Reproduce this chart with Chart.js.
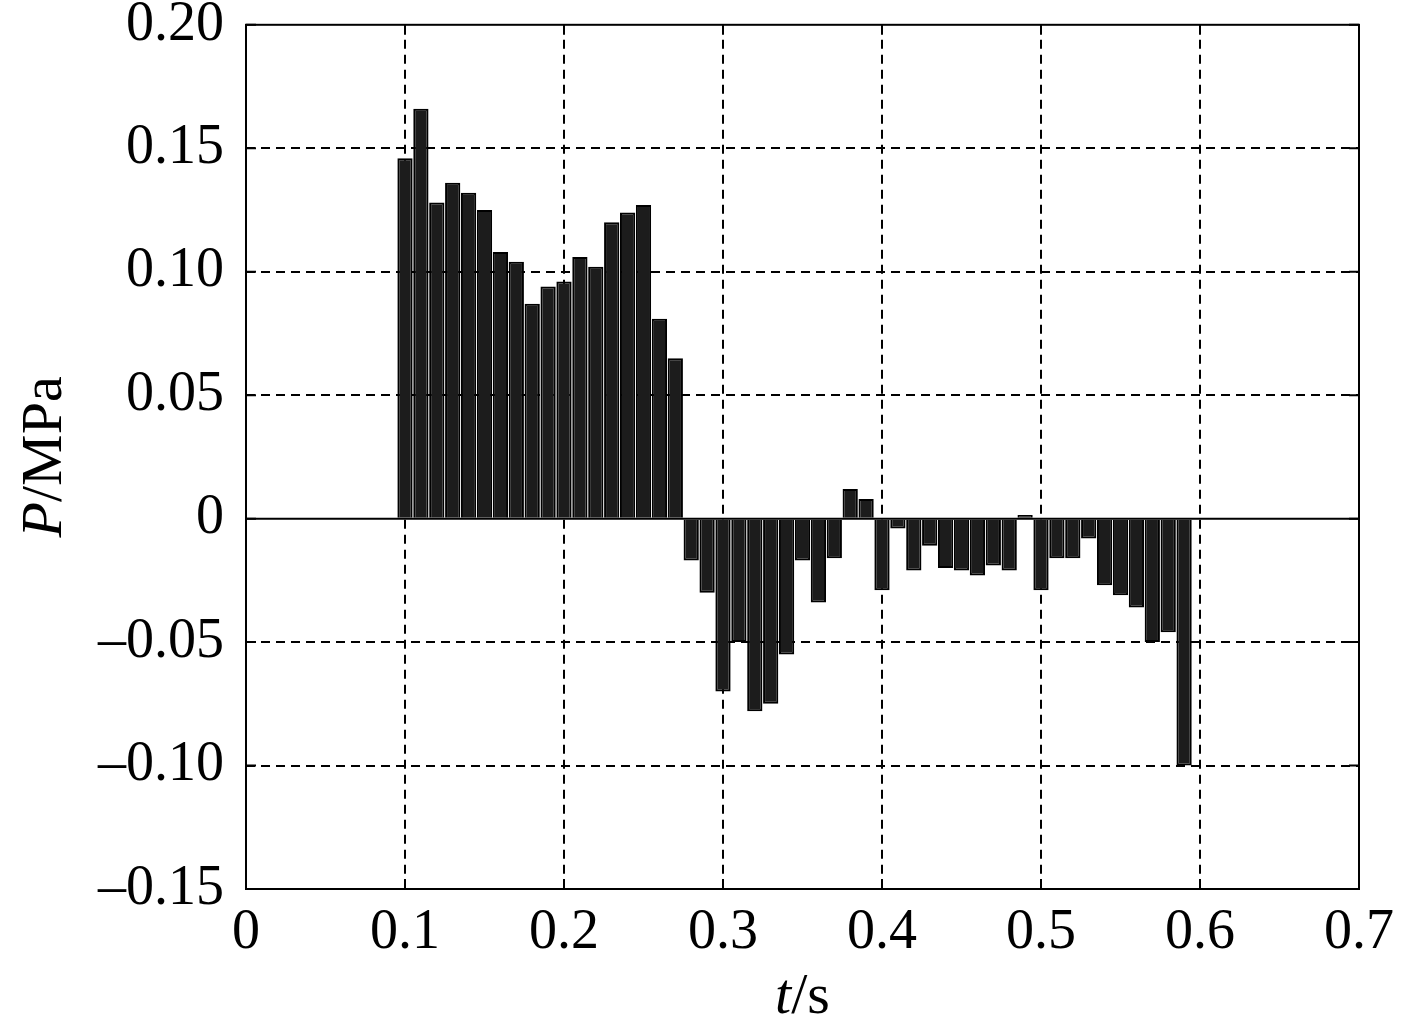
<!DOCTYPE html>
<html>
<head>
<meta charset="utf-8">
<script src="https://cdn.jsdelivr.net/npm/chart.js@4.4.1/dist/chart.umd.min.js"></script>
<style>
  html, body { margin: 0; padding: 0; background: #fff; overflow: hidden; }
  #wrap { width: 1417px; height: 1046px; position: relative; margin-top: -21px; }
</style>
</head>
<body>
<div id="wrap"><canvas id="chart"></canvas></div>
<script>
'use strict';

// ── Data ──
const times = [
  0.10, 0.11, 0.12, 0.13, 0.14, 0.15, 0.16, 0.17, 0.18, 0.19,
  0.20, 0.21, 0.22, 0.23, 0.24, 0.25, 0.26, 0.27, 0.28, 0.29,
  0.30, 0.31, 0.32, 0.33, 0.34, 0.35, 0.36, 0.37, 0.38, 0.39,
  0.40, 0.41, 0.42, 0.43, 0.44, 0.45, 0.46, 0.47, 0.48, 0.49,
  0.50, 0.51, 0.52, 0.53, 0.54, 0.55, 0.56, 0.57, 0.58, 0.59
];
const pressure = [
  0.146, 0.166, 0.128, 0.136, 0.132, 0.125, 0.108, 0.104, 0.087, 0.094,
  0.096, 0.106, 0.102, 0.120, 0.124, 0.127, 0.081, 0.065, -0.017, -0.030,
  -0.070, -0.050, -0.078, -0.075, -0.055, -0.017, -0.034, -0.016, 0.012, 0.008,
  -0.029, -0.004, -0.021, -0.011, -0.020, -0.021, -0.023, -0.019, -0.021, 0.0015,
  -0.029, -0.016, -0.016, -0.008, -0.027, -0.031, -0.036, -0.050, -0.046, -0.100
];
const xTicks = [0, 0.1, 0.2, 0.3, 0.4, 0.5, 0.6, 0.7];
const yTicks = [-0.15, -0.10, -0.05, 0, 0.05, 0.10, 0.15, 0.20];

const FONT = "'Liberation Serif', 'DejaVu Serif', serif";
const INK = '#000';
const SHIFT = 21; // canvas is moved up by this much

// ── Frame, zero line, inward ticks and axis titles ──
const decor = {
  id: 'decor',
  afterDatasetsDraw(chart) {
    const { ctx, chartArea: a, scales } = chart;
    const x = scales.x, y = scales.y;
    ctx.save();
    ctx.strokeStyle = INK;
    ctx.lineWidth = 2;
    ctx.setLineDash([]);

    // zero line
    const y0 = y.getPixelForValue(0);
    ctx.beginPath();
    ctx.moveTo(a.left, y0);
    ctx.lineTo(a.right, y0);
    ctx.stroke();

    // inward ticks
    xTicks.forEach((v) => {
      const px = x.getPixelForValue(v);
      ctx.beginPath();
      ctx.moveTo(px, a.bottom); ctx.lineTo(px, a.bottom - 10);
      ctx.moveTo(px, a.top); ctx.lineTo(px, a.top + 10);
      ctx.stroke();
    });
    yTicks.forEach((v) => {
      const py = y.getPixelForValue(v);
      ctx.beginPath();
      ctx.moveTo(a.left, py); ctx.lineTo(a.left + 10, py);
      ctx.moveTo(a.right, py); ctx.lineTo(a.right - 10, py);
      ctx.stroke();
    });

    // frame
    ctx.strokeRect(a.left, a.top, a.right - a.left, a.bottom - a.top);

    // axis titles, italic variable + upright unit
    ctx.fillStyle = INK;
    ctx.textBaseline = 'middle';
    const drawMixed = (parts, cx, cy) => {
      let total = 0;
      parts.forEach((p) => { ctx.font = p.font; total += ctx.measureText(p.text).width; });
      let cur = cx - total / 2;
      ctx.textAlign = 'left';
      parts.forEach((p) => {
        ctx.font = p.font;
        ctx.fillText(p.text, cur, cy);
        cur += ctx.measureText(p.text).width;
      });
    };
    const mid = (a.left + a.right) / 2;
    drawMixed([
      { text: 't', font: 'italic 58px ' + FONT },
      { text: '/s', font: '58px ' + FONT }
    ], mid, 998 + SHIFT);

    ctx.translate(46, (a.top + a.bottom) / 2);
    ctx.rotate(-Math.PI / 2);
    drawMixed([
      { text: 'P', font: 'italic 58px ' + FONT },
      { text: '/MPa', font: '58px ' + FONT }
    ], 0, 0);
    ctx.restore();
  }
};

const gridColor = (ctx) => {
  const v = ctx.tick ? ctx.tick.value : null;
  if (v === null) return 'rgba(0,0,0,0)';
  const s = ctx.scale;
  if (Math.abs(v - s.min) < 1e-9 || Math.abs(v - s.max) < 1e-9 || Math.abs(v) < 1e-9) return 'rgba(0,0,0,0)';
  return INK;
};

const fmtY = (v) => {
  if (Math.abs(v) < 1e-9) return '0';
  const s = Math.abs(v).toFixed(2);
  return v < 0 ? '\u2013' + s : s;
};
const fmtX = (v) => (Math.abs(v) < 1e-9 ? '0' : v.toFixed(1));

new Chart(document.getElementById('chart'), {
  type: 'bar',
  data: {
    datasets: [{
      data: times.map((t, i) => ({ x: t, y: pressure[i] })),
      backgroundColor: '#1c1c1c',
      borderColor: INK,
      borderWidth: 2,
      barPercentage: 0.96,
      categoryPercentage: 1.0,
    }],
  },
  options: {
    responsive: true, maintainAspectRatio: false,
    animation: false,
    layout: { padding: { top: 0, right: 58, left: 0, bottom: 0 } },
    plugins: { legend: { display: false }, tooltip: { enabled: false } },
    scales: {
      x: {
        type: 'linear', min: 0, max: 0.7, offset: false,
        afterBuildTicks: (s) => { s.ticks = xTicks.map((v) => ({ value: v })); },
        afterFit: (s) => { s.height = 136; },
        grid: { color: gridColor, lineWidth: 2, drawTicks: false, offset: false },
        border: { display: false, dash: [9, 6] },
        ticks: {
          color: INK, padding: 16, maxRotation: 0, autoSkip: false,
          font: { family: FONT, size: 56, lineHeight: 1 },
          callback: fmtX,
        },
      },
      y: {
        min: -0.15, max: 0.20,
        afterBuildTicks: (s) => { s.ticks = yTicks.map((v) => ({ value: v })); },
        afterFit: (s) => { s.width = 246; },
        grid: { color: gridColor, lineWidth: 2, drawTicks: false },
        border: { display: false, dash: [9, 6] },
        ticks: {
          color: INK, padding: 22, autoSkip: false,
          font: { family: FONT, size: 56, lineHeight: 0.85 },
          callback: fmtY,
        },
      },
    },
  },
  plugins: [decor],
});
</script>
</body>
</html>
